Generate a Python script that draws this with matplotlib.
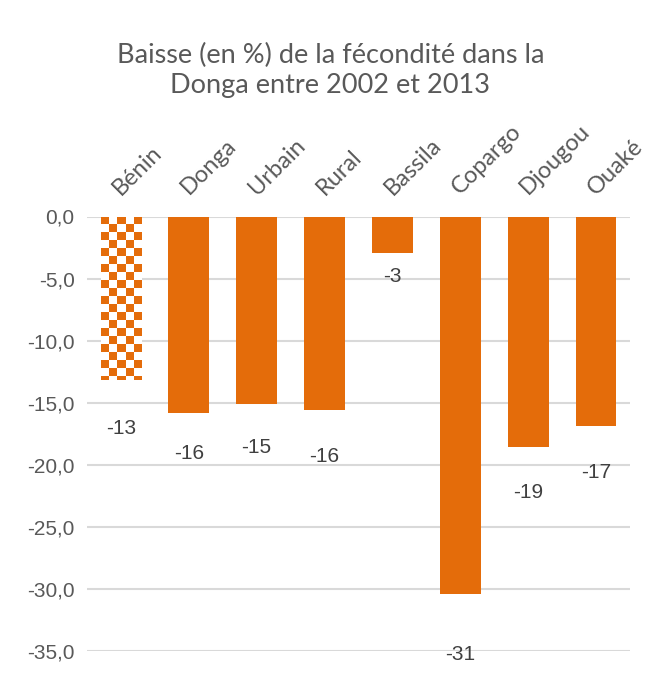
import numpy as np
import matplotlib
matplotlib.use("Agg")
import matplotlib.pyplot as plt
from matplotlib import font_manager

categories = ["Bénin", "Donga", "Urbain", "Rural", "Bassila", "Copargo", "Djougou", "Ouaké"]
values = [-13.2, -15.8, -15.1, -15.6, -2.9, -30.4, -18.6, -16.9]
value_labels = ["-13", "-16", "-15", "-16", "-3", "-31", "-19", "-17"]
yticks = [0, -5, -10, -15, -20, -25, -30, -35]
ytick_labels = ["0,0", "-5,0", "-10,0", "-15,0", "-20,0", "-25,0", "-30,0", "-35,0"]
title = "Baisse (en %) de la fécondité dans la\nDonga entre 2002 et 2013"

# label placement offsets below bar ends (data units), as manually placed in the original
label_offsets = [-3.84, -3.33, -3.47, -3.71, -1.96, -4.89, -3.63, -3.70]

avail = {f.name for f in font_manager.fontManager.ttflist}
narrow = "Liberation Sans Narrow" if "Liberation Sans Narrow" in avail else "Liberation Sans"
humanist = "Lato" if "Lato" in avail else "DejaVu Sans"

ORANGE = "#E46C0A"
GREY = "#595959"

fig = plt.figure(figsize=(6.48, 6.73), dpi=100)
ax = fig.add_axes([87 / 648, 1 - 651 / 673, 543 / 648, (651 - 216.5) / 673])

x = np.arange(len(categories))
bars = ax.bar(x, values, width=0.6, color=ORANGE, zorder=2)

# checkerboard pattern for first bar
b0 = bars[0]
b0.set_facecolor("none")
bx, by = b0.get_x(), b0.get_y()
bw, bh = b0.get_width(), b0.get_height()
ncols = 5
cell_h = 0.645
nrows = int(np.ceil(abs(bh) / cell_h))
checker = (np.add.outer(np.arange(nrows), np.arange(ncols)) % 2 == 0)
rgb = np.ones((nrows, ncols, 3))
oc = np.array(matplotlib.colors.to_rgb(ORANGE))
rgb[checker] = oc
im = ax.imshow(rgb, extent=(bx, bx + bw, 0, -nrows * cell_h),
               origin="upper", aspect="auto", interpolation="nearest", zorder=2)
im.set_clip_path(b0)

ax.set_xlim(-0.5, len(categories) - 0.5)
ax.set_ylim(-35, 0)
ax.set_yticks(yticks)
ax.set_yticklabels(ytick_labels, fontfamily=narrow, fontsize=15, color=GREY)
ax.yaxis.grid(True, color="#D9D9D9", linewidth=1.5, zorder=0)
ax.set_axisbelow(True)
for s in ax.spines.values():
    s.set_visible(False)
ax.tick_params(axis="y", length=0, pad=9)

ax.xaxis.tick_top()
ax.set_xticks(x)
ax.set_xticklabels(categories, rotation=45, ha="left", va="baseline",
                   rotation_mode="anchor", fontfamily=humanist, fontsize=17, color=GREY)
ax.tick_params(axis="x", length=0, pad=15)

for xi, v, lab, off in zip(x, values, value_labels, label_offsets):
    ax.text(xi, v + off, lab, ha="center", va="center", fontfamily=narrow,
            fontsize=15, color="#404040", clip_on=False)

fig.text(0.51, 1 - 70 / 673, title, ha="center", va="center", fontfamily=humanist,
         fontsize=19.5, color=GREY, linespacing=1.25)

fig.savefig("out.png", dpi=100)
